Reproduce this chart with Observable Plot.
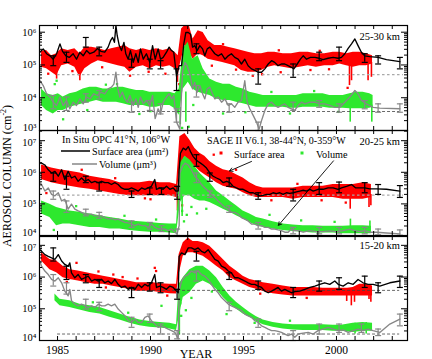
<!DOCTYPE html>
<html><head><meta charset="utf-8">
<script src="https://cdn.jsdelivr.net/npm/d3@7"></script>
<script src="https://cdn.jsdelivr.net/npm/@observablehq/plot@0.6"></script>
<style>
body{margin:0;background:#fff;}
#chart{position:relative;width:432px;height:359px;background:#fff;font-family:"Liberation Serif","Times New Roman",serif;}
#chart svg{position:absolute;left:0;top:0;}
</style></head><body><div id="chart"></div>
<script>
// ---------- shared ticks ----------
const yearTicks = [1985,1986,1987,1988,1989,1990,1991,1992,1993,1994,1995,1996,1997,1998,1999,2000,2001,2002,2003];
const yearLabels = [1985,1990,1995,2000];
const p1Majors = [1e3,1e4,1e5,1e6];
const p2Majors = [1e4,1e5,1e6,1e7];
const p3Majors = [1e4,1e5,1e6,1e7];
const p1Domain = [1e3,1.6e6];
const p2Domain = [1e4,2.1e7];
const p3Domain = [1e4,1.9e7];
const xDomain = [1984.03,2003.82];

// ---------- Panel 1 : 25-30 km ----------
const p1_opcSA = [[1984.05,2.45e5],[1984.23,3.1e5],[1984.41,2.2e5],[1984.59,1.9e5],[1984.77,1.5e5],[1984.95,2.2e5],[1985.13,4.4e5],[1985.27,2.6e5],[1985.45,1.9e5],[1985.63,1.7e5],[1985.84,2.2e5],[1986.02,1.5e5],[1986.20,2.45e5],[1986.38,1.9e5],[1986.56,2.75e5],[1986.74,2.2e5],[1986.95,2.45e5],[1987.15,3.2e5],[1987.33,2.6e5],[1987.54,2.45e5],[1987.72,3.5e5],[1987.85,5.5e5],[1987.96,6.9e5],[1988.06,4.9e5],[1988.14,1.6e6],[1988.21,7.8e5],[1988.32,3.9e5],[1988.44,2.75e5],[1988.57,4.9e5],[1988.67,2.2e5],[1988.80,1.5e5],[1988.92,2.75e5],[1989.07,1.2e5],[1989.21,2.2e5],[1989.34,1.2e5],[1989.46,3.1e5],[1989.61,1.5e5],[1989.78,2.2e5],[1989.96,1.2e5],[1990.11,3.9e5],[1990.25,1.5e5],[1990.41,3.1e5],[1990.54,1.5e5],[1990.68,1.7e5],[1990.86,2.45e5],[1991.00,3.5e5],[1991.13,2.75e5],[1991.25,2.45e5],[1991.40,4.5e4],[1991.54,9.5e4],[1991.67,9.5e4],[1991.79,4.4e5],[1991.90,9.8e5],[1992.03,9.8e5],[1992.15,8.7e5],[1992.26,3.5e5],[1992.38,3.9e5],[1992.51,2.75e5],[1992.65,3.9e5],[1992.80,3.1e5],[1992.92,1.9e5],[1993.05,3.1e5],[1993.19,3.5e5],[1993.33,2.75e5],[1993.46,2.2e5],[1993.64,1.9e5],[1993.82,2.2e5],[1994.00,1.5e5],[1994.18,1.9e5],[1994.35,2.2e5],[1994.53,1.7e5],[1994.71,1.5e5],[1994.89,1.07e5],[1995.07,1.5e5],[1995.25,9.5e4],[1995.43,7.6e4],[1995.61,6.8e4],[1995.79,6e4],[1995.97,6e4],[1996.15,7.6e4],[1996.33,1.07e5],[1996.51,1.35e5],[1996.68,1.2e5],[1996.86,9.5e4],[1997.04,1.07e5],[1997.22,1.07e5],[1997.40,9.5e4],[1997.58,8.5e4],[1997.71,7.6e4],[1997.89,1.07e5],[1998.06,1.5e5],[1998.21,1.9e5],[1998.39,1.5e5],[1998.60,1.7e5],[1998.84,1.7e5],[1999.07,1.6e5],[1999.28,1.45e5],[1999.55,1.6e5],[1999.82,1.7e5],[2000.09,1.6e5],[2000.27,1.7e5],[2000.45,2.2e5],[2000.63,3.2e5],[2000.81,4.4e5],[2000.99,6.2e5],[2001.16,3.9e5],[2001.34,2.45e5],[2001.52,1.9e5],[2001.79,1.8e5],[2002.24,1.7e5],[2002.69,1.45e5],[2003.41,1.26e5]];
const p1_opcSAerr = [[1984.77,9.5e4,1.9e5],[1985.48,1.2e5,2.45e5],[1986.52,3.5e5,6.9e5],[1987.24,1.9e5,3.5e5],[1988.98,8.5e4,1.5e5],[1989.96,7.6e4,1.5e5],[1990.54,7.6e4,1.35e5],[1991.40,1.66e4,7.6e4],[1992.47,2.2e5,4.4e5],[1995.79,2.6e4,7.6e4],[1997.67,4.2e4,1.07e5],[1999.07,1.35e5,2.45e5],[2000.14,1.35e5,3.5e5],[2001.52,1.2e5,2.2e5],[2002.24,1.07e5,1.9e5],[2003.41,7.6e4,1.7e5]];
const p1_opcV = [[1984.05,3.3e4],[1984.23,2.35e4],[1984.41,1.32e4],[1984.59,1.05e4],[1984.77,7.3e3],[1984.95,5.8e3],[1985.13,1.05e4],[1985.30,5.8e3],[1985.48,8.2e3],[1985.66,4.6e3],[1985.84,7.3e3],[1986.02,5.8e3],[1986.20,9.2e3],[1986.38,6.5e3],[1986.56,1.05e4],[1986.74,9.2e3],[1986.95,1.32e4],[1987.15,1.17e4],[1987.33,1.48e4],[1987.54,1.32e4],[1987.72,1.86e4],[1987.90,2.1e4],[1988.03,2.6e4],[1988.14,6e4],[1988.24,1.86e4],[1988.35,1.05e4],[1988.49,1.48e4],[1988.62,9.2e3],[1988.75,7.3e3],[1988.89,1.17e4],[1989.07,5.8e3],[1989.21,9.2e3],[1989.34,5.1e3],[1989.46,1.05e4],[1989.61,6.5e3],[1989.78,8.2e3],[1989.96,5.8e3],[1990.11,1.17e4],[1990.25,2.3e3],[1990.41,4.6e3],[1990.54,3.2e3],[1990.68,7.3e3],[1990.86,1.05e4],[1991.00,1.32e4],[1991.13,9.2e3],[1991.25,1.17e4],[1991.40,1.8e3],[1991.58,1.1e3],[1991.72,6e4],[1991.85,1.2e5],[1991.97,9.5e4],[1992.11,5.4e4],[1992.26,1.86e4],[1992.38,2.95e4],[1992.51,1.48e4],[1992.65,2.35e4],[1992.80,1.32e4],[1992.92,9.2e3],[1993.05,1.86e4],[1993.19,2.1e4],[1993.33,1.32e4],[1993.46,9.2e3],[1993.64,1.05e4],[1993.82,7.3e3],[1994.00,9.2e3],[1994.18,5.8e3],[1994.35,6.5e3],[1994.53,5.1e3],[1994.71,7.3e3],[1994.89,8.2e3],[1995.07,3.3e4],[1995.20,7.3e3],[1995.34,4.6e3],[1995.52,2.9e3],[1995.70,1.8e3],[1995.84,1.1e3],[1995.97,2.0e3],[1996.15,4.1e3],[1996.33,6.5e3],[1996.51,7.3e3],[1996.68,5.8e3],[1996.86,5.1e3],[1997.04,5.8e3],[1997.22,6.5e3],[1997.40,5.1e3],[1997.58,4.6e3],[1997.76,4.1e3],[1997.94,5.8e3],[1998.12,7.3e3],[1998.30,6.5e3],[1998.57,7.3e3],[1998.84,7.3e3],[1999.10,6.5e3],[1999.37,6.5e3],[1999.64,5.8e3],[1999.91,5.1e3],[2000.18,5.1e3],[2000.45,7.3e3],[2000.72,1.05e4],[2000.99,1.66e4],[2001.16,1.32e4],[2001.34,8.2e3],[2001.61,6.5e3],[2001.97,5.1e3],[2002.33,4.8e3],[2003.41,4.6e3]];
const p1_opcVerr = [[1984.77,4.6e3,1.17e4],[1985.48,4.1e3,1.05e4],[1986.52,7.3e3,1.32e4],[1987.24,9.2e3,1.66e4],[1988.98,3.6e3,7.3e3],[1989.96,4.1e3,8.2e3],[1990.54,3.2e3,6.5e3],[1991.40,1.8e3,4.6e3],[1992.47,1.05e4,2.35e4],[1994.23,3.6e3,6.5e3],[1995.79,1.0e3,1.8e3],[1997.67,4.1e3,7.3e3],[1999.07,5.1e3,8.2e3],[2000.14,3.6e3,6.5e3],[2001.52,4.6e3,8.2e3],[2002.24,3.6e3,6.5e3],[2003.41,3.6e3,6.5e3]];
const p1_sageSA = [[1984.14,8.5e4,2.6e5],[1984.41,7.6e4,2.75e5],[1984.68,6e4,1.9e5],[1984.95,4.7e4,2.2e5],[1985.22,9.5e4,3.1e5],[1985.57,1.07e5,2.75e5],[1985.93,8.5e4,3.1e5],[1986.20,4.2e4,2.2e5],[1986.47,7.6e4,3.5e5],[1986.83,1.07e5,3.5e5],[1987.19,1.35e5,3.2e5],[1987.54,1.2e5,2.75e5],[1987.90,1.07e5,3.1e5],[1988.26,9.5e4,3.5e5],[1988.62,8.5e4,3.9e5],[1988.89,6e4,3.1e5],[1989.25,8.5e4,2.75e5],[1989.61,9.5e4,3.1e5],[1989.96,7.6e4,2.75e5],[1990.32,9.5e4,3.1e5],[1990.68,8.5e4,2.75e5],[1991.04,9.5e4,3.1e5],[1991.31,7.6e4,2.45e5],[1991.49,6e4,1.9e5],[1991.67,1.5e5,1.25e6],[1991.85,3.9e5,1.6e6],[1992.08,2.45e5,1.6e6],[1992.29,1.5e5,6.2e5],[1992.56,2.2e5,1.1e6],[1992.83,1.9e5,9.8e5],[1993.10,1.5e5,5.5e5],[1993.46,1.35e5,3.9e5],[1993.82,1.2e5,3.9e5],[1994.18,1.07e5,3.5e5],[1994.53,9.5e4,3.1e5],[1994.89,6.8e4,2.75e5],[1995.25,6e4,2.45e5],[1995.61,6e4,2.2e5],[1995.97,6.8e4,2.2e5],[1996.33,8.5e4,2.45e5],[1996.68,9.5e4,2.45e5],[1997.13,8.5e4,2.2e5],[1997.58,7.6e4,2.2e5],[1998.03,8.5e4,2.45e5],[1998.48,9.5e4,2.45e5],[1998.92,8.5e4,2.2e5],[1999.37,9.5e4,2.2e5],[1999.82,9.5e4,2.45e5],[2000.18,1.07e5,2.45e5],[2000.54,9.5e4,2.2e5],[2000.90,8.5e4,2.45e5],[2001.25,9.5e4,2.45e5],[2001.61,9.5e4,2.2e5],[2001.94,1.07e5,1.9e5]];
const p1_sageSAspikes = [[2000.70,2.35e4,1.5e5],[2000.81,3.3e4,1.5e5],[2001.70,3.3e4,1.2e5],[2001.88,4.2e4,1.2e5],[1991.45,2.95e4,9.5e4],[1984.95,3.7e4,1e5],[1986.20,3.3e4,8e4]];
const p1_sageSAdots = [[1988.9,4.7e4],[1990.8,5.4e4],[1992.3,8.5e4],[1995.5,4.7e4],[1997.0,6e4],[1984.5,5.4e4],[1993.3,9.5e4],[2000.6,2e4],[1991.55,2.6e4],[1991.7,4.4e4],[1985.8,6.5e4],[1987.4,8.5e4],[1989.9,6.2e4],[1994.6,7.2e4],[1996.0,5.2e4],[1998.6,7.0e4],[1999.6,7.4e4],[1993.9,4.3e5],[1996.9,2.8e5],[1999.1,2.7e5]];
const p1_sageV = [[1984.14,5.8e3,1.86e4],[1984.41,4.1e3,1.32e4],[1984.77,3.2e3,1.17e4],[1985.04,4.1e3,1.32e4],[1985.30,4.1e3,1.05e4],[1985.66,5.1e3,1.32e4],[1986.02,5.8e3,1.48e4],[1986.38,6.5e3,1.86e4],[1986.74,7.3e3,2.1e4],[1987.10,8.2e3,2.1e4],[1987.46,7.3e3,1.86e4],[1987.81,7.3e3,1.86e4],[1988.17,7.3e3,2.1e4],[1988.53,6.5e3,2.1e4],[1988.89,5.8e3,1.86e4],[1989.25,5.8e3,1.66e4],[1989.61,5.8e3,1.66e4],[1989.96,5.1e3,1.48e4],[1990.32,5.1e3,1.48e4],[1990.68,5.8e3,1.48e4],[1991.04,5.8e3,1.48e4],[1991.31,4.6e3,1.32e4],[1991.54,2.9e3,1.86e4],[1991.76,1.86e4,3.1e5],[1992.03,2.95e4,4.9e5],[1992.26,1.86e4,1.5e5],[1992.56,1.48e4,1.9e5],[1992.83,1.32e4,7.6e4],[1993.19,1.17e4,3.7e4],[1993.55,9.2e3,2.95e4],[1993.91,8.2e3,2.6e4],[1994.27,8.2e3,2.6e4],[1994.62,7.3e3,2.1e4],[1994.98,6.5e3,1.86e4],[1995.34,5.8e3,1.48e4],[1995.70,5.1e3,1.32e4],[1996.06,5.1e3,1.17e4],[1996.42,5.1e3,1.17e4],[1996.77,5.1e3,1.17e4],[1997.13,5.1e3,1.17e4],[1997.49,4.8e3,1.17e4],[1997.85,4.8e3,1.17e4],[1998.21,5.1e3,1.32e4],[1998.57,5.1e3,1.32e4],[1998.92,5.1e3,1.32e4],[1999.28,5.1e3,1.32e4],[1999.64,4.8e3,1.17e4],[2000.00,4.8e3,1.17e4],[2000.36,4.8e3,1.17e4],[2000.72,4.6e3,1.32e4],[2001.08,4.6e3,1.48e4],[2001.43,4.6e3,1.48e4],[2001.79,4.8e3,1.32e4],[2001.97,5.1e3,1.17e4]];
const p1_sageVspikes = [[2000.74,1.8e3,6e3],[2001.90,1.8e3,6e3],[1991.60,1.5e3,5e3],[1991.90,1.8e3,1.5e4]];
const p1_sageVdots = [[1984.95,3.3e4],[1984.85,2.6e4],[1992.3,6e3],[1993.9,3.3e3],[1997.5,3.3e3],[1989.4,3.2e3],[1985.3,2.2e3],[1991.7,1.2e3],[1992.05,1.3e3],[1986.6,4.2e3],[1988.2,2.6e4],[1990.0,3.9e3],[1995.1,3.6e3],[1996.5,1.5e4],[1998.8,1.6e4],[2000.1,3.7e3],[1987.6,2.5e4]];
const p1_refsLight = [[1985,2003.6,5.1e4]];
const p1_refsDark = [[1985,2003.4,3.8e3]];

// ---------- Panel 2 : 20-25 km ----------
const p2_opcSA = [[1984.05,1.95e6],[1984.14,1.95e6],[1984.32,1.7e6],[1984.50,1.2e6],[1984.68,9.5e5],[1984.86,1.07e6],[1985.04,7.5e5],[1985.22,1.2e6],[1985.39,5.9e5],[1985.57,1.07e6],[1985.75,6.6e5],[1985.93,7.5e5],[1986.11,5.2e5],[1986.29,6.6e5],[1986.47,5.2e5],[1986.65,5.9e5],[1986.83,4.7e5],[1987.01,5.2e5],[1987.19,4.7e5],[1987.37,5.2e5],[1987.54,4.7e5],[1987.72,4.7e5],[1987.90,4.1e5],[1988.08,4.7e5],[1988.26,4.1e5],[1988.44,3.2e5],[1988.62,2.9e5],[1988.80,2.9e5],[1988.98,3.2e5],[1989.16,2.9e5],[1989.34,2.55e5],[1989.52,3.2e5],[1989.70,2.9e5],[1989.87,3.2e5],[1990.05,3.6e5],[1990.23,5.9e5],[1990.32,2.9e5],[1990.50,3.2e5],[1990.68,2.9e5],[1990.86,3.6e5],[1991.04,2.9e5],[1991.22,3.2e5],[1991.36,2.55e5],[1991.49,2.55e5],[1991.54,1.2e6],[1991.61,4.0e6],[1991.76,5.8e6],[1991.90,5.1e6],[1992.03,6.5e6],[1992.15,4.5e6],[1992.29,3.2e6],[1992.44,2.5e6],[1992.56,2.2e6],[1992.69,1.95e6],[1992.83,1.7e6],[1993.01,1.36e6],[1993.19,9.5e5],[1993.37,7.5e5],[1993.55,6.6e5],[1993.73,5.9e5],[1993.91,4.7e5],[1994.09,5.2e5],[1994.27,4.7e5],[1994.44,3.6e5],[1994.62,3.2e5],[1994.80,2.9e5],[1994.98,2.9e5],[1995.16,2.55e5],[1995.34,2.25e5],[1995.52,2.25e5],[1995.70,2.0e5],[1995.88,1.8e5],[1996.06,1.85e5],[1996.24,2.0e5],[1996.42,2.0e5],[1996.59,2.25e5],[1996.77,2.1e5],[1996.95,2.25e5],[1997.13,2.0e5],[1997.31,2.25e5],[1997.49,2.15e5],[1997.67,2.25e5],[1997.85,2.4e5],[1998.03,2.55e5],[1998.21,2.7e5],[1998.39,2.55e5],[1998.57,2.9e5],[1998.75,2.55e5],[1999.01,2.9e5],[1999.28,2.9e5],[1999.55,3.2e5],[1999.82,3.2e5],[2000.09,2.9e5],[2000.27,3.2e5],[2000.54,3.6e5],[2000.81,4.1e5],[2001.04,3.2e5],[2001.25,3.2e5],[2001.52,3.2e5],[2001.79,3.0e5],[2002.15,3.0e5],[2002.69,2.9e5],[2003.41,2.55e5]];
const p2_opcSAerr = [[1984.77,5.2e5,9.5e5],[1985.48,2.9e5,7.5e5],[1986.52,4.7e5,7.5e5],[1987.24,2.55e5,4.7e5],[1988.98,1.6e5,2.55e5],[1989.96,2.0e5,3.2e5],[1990.59,2.0e5,3.2e5],[1991.43,1.4e5,3.6e5],[1992.47,1.55e6,3.6e6],[1993.19,5.2e5,9.5e5],[1994.23,3.6e5,6.6e5],[1995.79,1.4e5,2.25e5],[1997.67,1.24e5,2.9e5],[1999.07,2.0e5,4.7e5],[2000.14,2.25e5,4.9e5],[2001.52,2.25e5,4.7e5],[2002.24,2.0e5,4.1e5],[2003.41,1.6e5,3.8e5]];
const p2_opcV = [[1984.05,4.7e5],[1984.14,4.1e5],[1984.32,2.55e5],[1984.50,3.2e5],[1984.68,2.0e5],[1984.86,1.8e5],[1985.04,2.25e5],[1985.22,1.24e5],[1985.39,1.4e5],[1985.57,6.8e4],[1985.75,9.8e4],[1985.93,6.8e4],[1986.11,6.0e4],[1986.29,5.4e4],[1986.47,4.75e4],[1986.65,4.75e4],[1986.83,4.75e4],[1987.01,4.2e4],[1987.19,4.2e4],[1987.37,4.2e4],[1987.54,3.7e4],[1987.72,3.3e4],[1987.90,3.5e4],[1988.08,3.15e4],[1988.26,3.3e4],[1988.44,2.9e4],[1988.62,2.6e4],[1988.80,2.5e4],[1988.98,2.3e4],[1989.16,2.05e4],[1989.34,2.3e4],[1989.52,2.05e4],[1989.70,2.05e4],[1989.87,1.8e4],[1990.05,2.3e4],[1990.23,1.8e4],[1990.41,1.6e4],[1990.59,1.6e4],[1990.77,1.6e4],[1990.95,1.43e4],[1991.13,1.6e4],[1991.31,1.27e4],[1991.43,1.13e4],[1991.54,2.05e4],[1991.58,9.5e5],[1991.72,1.55e6],[1991.86,1.95e6],[1992.03,1.7e6],[1992.20,1.2e6],[1992.38,7.5e5],[1992.56,5.9e5],[1992.74,4.1e5],[1992.92,3.2e5],[1993.10,2.55e5],[1993.28,2.0e5],[1993.46,1.6e5],[1993.64,1.24e5],[1993.82,9.8e4],[1994.00,7.7e4],[1994.18,6.8e4],[1994.35,5.4e4],[1994.53,5.4e4],[1994.71,4.75e4],[1994.89,3.7e4],[1995.07,3.3e4],[1995.25,2.9e4],[1995.43,2.3e4],[1995.61,2.3e4],[1995.79,2.05e4],[1995.97,2.05e4],[1996.15,1.8e4],[1996.33,1.8e4],[1996.51,1.6e4],[1996.68,1.6e4],[1996.86,1.5e4],[1997.04,1.43e4],[1997.22,1.27e4],[1997.40,1.27e4],[1997.58,1.6e4],[1997.76,1.43e4],[1997.94,1.43e4],[1998.21,1.27e4],[1998.57,1.43e4],[1998.92,1.33e4],[1999.28,1.33e4],[1999.64,1.4e4],[2000.00,1.33e4],[2000.36,1.43e4],[2000.72,1.6e4],[2000.99,1.43e4],[2001.25,1.33e4],[2001.52,1.43e4],[2001.79,1.27e4],[2002.15,1.27e4],[2002.69,1.2e4],[2003.41,1.13e4]];
const p2_opcVerr = [[1984.77,1.4e5,2.55e5],[1985.48,5.4e4,1.24e5],[1986.52,4.2e4,6.8e4],[1987.24,3.5e4,5.4e4],[1988.98,1.8e4,2.9e4],[1989.96,1.6e4,2.6e4],[1990.59,1.33e4,2.05e4],[1991.43,1.0e4,1.6e4],[1992.47,4.7e5,9.5e5],[1993.19,1.6e5,2.55e5],[1994.23,5.4e4,8.7e4],[1995.79,1.6e4,2.6e4],[1997.67,1.13e4,1.8e4],[1999.07,1.13e4,1.8e4],[2000.14,1.13e4,1.8e4],[2001.52,1.13e4,1.8e4],[2002.24,1.05e4,1.6e4],[2003.41,1.02e4,1.5e4]];
const p2_sageSA = [[1984.14,5.9e5,1.7e6],[1984.68,4.7e5,1.36e6],[1985.13,4.1e5,1.2e6],[1985.66,3.6e5,1.07e6],[1986.20,3.2e5,9.5e5],[1986.74,2.9e5,7.5e5],[1987.28,2.55e5,6.6e5],[1987.81,2.25e5,5.9e5],[1988.35,2.0e5,4.7e5],[1988.89,1.8e5,4.7e5],[1989.43,1.8e5,4.7e5],[1989.96,1.8e5,5.2e5],[1990.50,1.8e5,4.7e5],[1991.04,1.8e5,4.7e5],[1991.40,1.6e5,4.1e5],[1991.58,1.2e6,1.33e7],[1991.85,3.2e6,1.7e7],[1992.11,2.2e6,1.05e7],[1992.38,1.55e6,5.8e6],[1992.65,1.07e6,4.0e6],[1992.92,8.4e5,3.2e6],[1993.19,6.6e5,2.2e6],[1993.55,4.7e5,1.55e6],[1993.91,3.6e5,1.2e6],[1994.27,3.2e5,1.07e6],[1994.62,2.9e5,8.4e5],[1994.98,2.25e5,6.6e5],[1995.34,1.8e5,4.7e5],[1995.70,1.6e5,3.6e5],[1996.06,1.6e5,3.2e5],[1996.59,1.6e5,3.2e5],[1997.13,1.6e5,3.2e5],[1997.67,1.4e5,3.2e5],[1998.21,1.6e5,3.6e5],[1998.75,1.6e5,3.6e5],[1999.28,1.6e5,3.6e5],[1999.82,1.6e5,4.1e5],[2000.36,1.4e5,4.1e5],[2000.90,1.4e5,4.1e5],[2001.43,1.4e5,4.7e5],[2001.88,1.6e5,4.1e5]];
const p2_sageSAspikes = [[2000.74,6.8e4,2.0e5],[2001.75,7.7e4,2.0e5],[2001.85,8.7e4,2.0e5],[1991.45,6e4,2e5]];
const p2_sageSAdots = [[1984.4,2.2e5],[1991.7,9e4],[1992.0,6e5],[1991.6,3e5],[1993.4,3.6e6],[1990.0,1.4e5],[1996.5,1.3e5],[2000.5,1.1e5],[1986.3,1.2e6],[1988.1,6.5e5],[1989.7,1.5e5],[1994.6,1.2e6],[1997.9,4.3e5],[1999.2,1.3e5]];
const p2_sageV = [[1984.14,4.75e4,1.24e5],[1984.59,3.7e4,9.8e4],[1984.95,2.05e4,7.7e4],[1985.30,2.3e4,6.8e4],[1985.66,2.3e4,6.0e4],[1986.20,2.05e4,5.4e4],[1986.74,1.8e4,4.75e4],[1987.28,1.8e4,4.2e4],[1987.81,1.6e4,3.7e4],[1988.35,1.6e4,3.3e4],[1988.89,1.43e4,2.9e4],[1989.43,1.33e4,2.7e4],[1989.96,1.27e4,2.6e4],[1990.50,1.27e4,2.4e4],[1991.04,1.2e4,2.3e4],[1991.40,1.13e4,2.3e4],[1991.61,1.1e5,1.95e6],[1991.85,1.8e5,3.2e6],[1992.11,1.8e5,2.5e6],[1992.38,1.4e5,1.55e6],[1992.65,1.24e5,9.5e5],[1992.92,1.24e5,6.6e5],[1993.19,1.1e5,4.7e5],[1993.55,8.7e4,2.55e5],[1993.91,6.8e4,1.8e5],[1994.27,5.4e4,1.24e5],[1994.62,4.2e4,8.7e4],[1994.98,3.3e4,6.0e4],[1995.34,2.6e4,4.75e4],[1995.70,2.05e4,3.7e4],[1996.06,1.8e4,3.3e4],[1996.59,1.6e4,2.7e4],[1997.13,1.43e4,2.3e4],[1997.67,1.33e4,2.15e4],[1998.21,1.27e4,2.05e4],[1998.75,1.2e4,2.05e4],[1999.28,1.2e4,1.95e4],[1999.82,1.2e4,1.95e4],[2000.36,1.13e4,1.95e4],[2000.90,1.13e4,2.05e4],[2001.43,1.13e4,2.05e4],[2001.88,1.13e4,1.95e4]];
const p2_sageVspikes = [[2000.75,1.2e4,3.3e4],[2001.80,1.2e4,2.9e4],[1991.70,4e4,2e5]];
const p2_sageVdots = [[1991.7,6e4],[1991.95,4.5e4],[1992.2,8e4],[1992.5,5e4],[1993.0,7e4],[1984.8,1.5e4],[1991.8,2.8e4],[1986.0,8.5e4],[1988.6,4.2e4],[1990.3,3.2e4],[1996.4,4.5e4],[1998.1,3.0e4],[1999.9,2.7e4]];
const p2_refsLight = [[1985,2003.6,1.9e5]];
const p2_refsDark = [];
const p2_arrows = [[1995.43,2.2e6,1994.25,1.1e6],[1999.84,2.3e6,1996.88,2.1e4]];

// ---------- Panel 3 : 15-20 km ----------
const p3_opcSA = [[1984.05,7.3e6],[1984.14,6.5e6],[1984.32,5.1e6],[1984.50,4.5e6],[1984.68,4.0e6],[1984.86,3.6e6],[1985.04,5.1e6],[1985.22,3.2e6],[1985.39,2.5e6],[1985.57,2.2e6],[1985.66,2.8e6],[1985.75,1.36e6],[1985.93,9.5e5],[1986.11,1.2e6],[1986.29,8.4e5],[1986.47,9.5e5],[1986.65,1.07e6],[1986.83,7.5e5],[1987.01,8.4e5],[1987.19,7.5e5],[1987.37,8.4e5],[1987.54,6.6e5],[1987.72,7.5e5],[1987.90,6.2e5],[1988.08,8.4e5],[1988.26,5.9e5],[1988.44,4.7e5],[1988.62,5.2e5],[1988.80,4.1e5],[1988.98,4.7e5],[1989.16,4.1e5],[1989.34,5.9e5],[1989.52,4.7e5],[1989.70,5.9e5],[1989.87,5.2e5],[1990.05,6.6e5],[1990.23,1.2e6],[1990.32,4.7e5],[1990.50,5.2e5],[1990.68,4.7e5],[1990.86,4.1e5],[1991.04,5.2e5],[1991.22,4.7e5],[1991.40,3.6e5],[1991.49,3.2e5],[1991.54,4.5e6],[1991.67,5.8e6],[1991.85,5.1e6],[1992.03,8.3e6],[1992.20,8.3e6],[1992.38,7.3e6],[1992.56,8.3e6],[1992.74,6.5e6],[1992.92,5.8e6],[1993.10,7.3e6],[1993.28,5.1e6],[1993.46,3.6e6],[1993.64,3.2e6],[1993.82,2.2e6],[1994.00,1.95e6],[1994.18,1.55e6],[1994.35,1.36e6],[1994.53,9.5e5],[1994.71,9.5e5],[1994.89,8.4e5],[1995.07,7.5e5],[1995.25,6.6e5],[1995.43,5.9e5],[1995.61,5.9e5],[1995.79,5.2e5],[1995.97,4.7e5],[1996.15,3.6e5],[1996.33,3.2e5],[1996.51,3.6e5],[1996.68,4.1e5],[1996.86,4.7e5],[1997.04,3.6e5],[1997.22,4.1e5],[1997.40,3.6e5],[1997.58,3.2e5],[1997.76,3.5e5],[1998.03,3.6e5],[1998.30,4.1e5],[1998.57,4.7e5],[1998.84,5.2e5],[1999.10,5.9e5],[1999.37,6.6e5],[1999.64,5.9e5],[1999.91,7.5e5],[2000.09,5.9e5],[2000.36,5.2e5],[2000.63,6.6e5],[2000.90,5.9e5],[2001.16,8.4e5],[2001.43,6.6e5],[2001.70,5.9e5],[2001.97,5.9e5],[2002.33,5.2e5],[2002.87,6.6e5],[2003.41,7.5e5]];
const p3_opcSAerr = [[1984.77,3.2e6,8.3e6],[1985.48,8.4e5,2.2e6],[1986.52,6.6e5,1.2e6],[1987.24,4.7e5,8.4e5],[1988.98,2.25e5,4.7e5],[1989.96,3.6e5,6.6e5],[1990.54,3.2e5,6.6e5],[1991.43,2.0e5,4.1e5],[1992.47,3.2e6,6.5e6],[1994.23,8.4e5,1.36e6],[1995.79,4.1e5,7.5e5],[1997.67,2.25e5,4.7e5],[1999.07,3.6e5,7.5e5],[2000.14,4.1e5,9.5e5],[2001.52,4.7e5,1.07e6],[2002.24,3.2e5,6.6e5],[2003.41,4.7e5,1.07e6]];
const p3_opcV = [[1984.05,3.2e6],[1984.14,2.2e6],[1984.32,1.55e6],[1984.50,1.2e6],[1984.68,8.4e5],[1984.86,7.5e5],[1985.04,9.5e5],[1985.22,6.6e5],[1985.39,3.6e5],[1985.57,2.55e5],[1985.66,4.1e5],[1985.75,1.8e5],[1985.93,1.4e5],[1986.11,1.24e5],[1986.29,1.4e5],[1986.47,1.24e5],[1986.65,1.1e5],[1986.83,1.24e5],[1987.01,1.1e5],[1987.19,1.4e5],[1987.37,1.24e5],[1987.54,1.24e5],[1987.72,1.4e5],[1987.90,1.24e5],[1988.08,1.4e5],[1988.26,9.8e4],[1988.44,7.7e4],[1988.62,6.0e4],[1988.80,4.2e4],[1988.98,3.7e4],[1989.16,4.75e4],[1989.34,3.7e4],[1989.52,3.7e4],[1989.70,5.4e4],[1989.87,6.0e4],[1990.05,4.2e4],[1990.23,3.3e4],[1990.41,2.6e4],[1990.59,2.9e4],[1990.77,2.6e4],[1990.95,2.3e4],[1991.13,2.05e4],[1991.31,1.8e4],[1991.40,1.43e4],[1991.49,1.13e4],[1991.54,3.6e5],[1991.67,7.5e5],[1991.85,1.07e6],[1992.03,1.2e6],[1992.20,1.55e6],[1992.38,1.36e6],[1992.56,1.55e6],[1992.74,1.2e6],[1992.92,1.07e6],[1993.10,8.4e5],[1993.28,5.9e5],[1993.46,4.1e5],[1993.64,3.2e5],[1993.82,2.25e5],[1994.00,1.8e5],[1994.18,1.4e5],[1994.35,1.24e5],[1994.53,1.1e5],[1994.71,9.8e4],[1994.89,8.7e4],[1995.07,6.8e4],[1995.25,6.0e4],[1995.43,5.4e4],[1995.61,4.2e4],[1995.79,3.7e4],[1995.97,2.9e4],[1996.15,2.6e4],[1996.33,2.3e4],[1996.51,2.05e4],[1996.68,2.05e4],[1996.86,1.95e4],[1997.04,1.8e4],[1997.22,1.6e4],[1997.40,1.43e4],[1997.58,1.6e4],[1997.76,1.27e4],[1997.94,1.6e4],[1998.21,1.7e4],[1998.48,1.8e4],[1998.75,1.6e4],[1999.01,2.05e4],[1999.28,2.3e4],[1999.55,2.6e4],[1999.82,2.3e4],[2000.09,2.05e4],[2000.36,2.15e4],[2000.63,1.8e4],[2000.90,2.05e4],[2001.16,2.3e4],[2001.43,2.05e4],[2001.70,2.3e4],[2001.97,2.05e4],[2002.33,1.8e4],[2002.87,3.3e4],[2003.41,4.75e4]];
const p3_opcVerr = [[1984.77,5.2e5,1.2e6],[1985.48,2.9e5,6.6e5],[1986.52,9.8e4,2.0e5],[1987.24,8.7e4,1.6e5],[1988.98,2.6e4,5.4e4],[1989.96,3.7e4,6.8e4],[1990.54,1.6e4,3.3e4],[1991.43,1.13e4,2.05e4],[1992.47,7.5e5,1.55e6],[1994.23,8.7e4,1.6e5],[1995.79,2.6e4,4.75e4],[1997.67,1.0e4,2.05e4],[1999.07,1.6e4,3.3e4],[2000.14,1.8e4,3.3e4],[2001.34,1.8e4,3.3e4],[2002.24,1.43e4,2.3e4],[2003.41,2.9e4,6.8e4]];
const p3_sageSA = [[1984.14,3.2e6,5.8e6],[1984.59,1.7e6,3.6e6],[1984.95,1.36e6,3.2e6],[1985.30,9.5e5,2.2e6],[1985.66,8.4e5,1.7e6],[1986.11,7.5e5,1.55e6],[1986.56,6.6e5,1.36e6],[1987.01,5.9e5,1.2e6],[1987.46,5.9e5,1.07e6],[1987.90,5.2e5,9.5e5],[1988.35,4.7e5,8.4e5],[1988.80,4.1e5,7.5e5],[1989.25,3.6e5,6.6e5],[1989.70,3.6e5,6.6e5],[1990.14,3.5e5,6.6e5],[1990.59,3.2e5,6.2e5],[1991.04,3.0e5,5.9e5],[1991.40,2.9e5,5.9e5],[1991.54,1.2e6,5.1e6],[1991.76,4.5e6,1.2e7],[1992.03,5.8e6,1.7e7],[1992.29,5.8e6,1.33e7],[1992.56,5.1e6,1.33e7],[1992.83,4.5e6,1.2e7],[1993.19,3.2e6,9.3e6],[1993.55,2.2e6,5.8e6],[1993.91,1.55e6,3.6e6],[1994.27,9.5e5,2.2e6],[1994.62,7.5e5,1.55e6],[1994.98,5.9e5,1.07e6],[1995.34,4.7e5,8.4e5],[1995.70,4.1e5,7.5e5],[1996.06,3.5e5,6.6e5],[1996.59,3.0e5,5.9e5],[1997.13,2.7e5,5.2e5],[1997.67,2.55e5,4.7e5],[1998.21,2.55e5,4.7e5],[1998.75,2.55e5,4.7e5],[1999.28,2.55e5,4.4e5],[1999.82,2.55e5,4.4e5],[2000.27,2.55e5,4.4e5],[2000.60,2.55e5,4.4e5],[2000.90,2.55e5,4.7e5],[2001.25,2.55e5,5.9e5],[2001.61,2.55e5,5.9e5],[2001.94,2.55e5,5.2e5]];
const p3_sageSAspikes = [[2000.80,1.24e5,4e5],[2000.97,1.6e5,4e5],[2001.85,1.6e5,4e5],[2001.75,1.95e5,4e5],[2000.55,1.7e5,3.5e5]];
const p3_sageSAdots = [[1986.02,2.8e6],[1988.0,1.2e6],[1990.23,1.95e6],[1990.3,1.55e6],[1988.5,1.0e6],[1987.2,1.5e6],[1989.3,9e5],[1985.5,7.0e5],[1987.6,4.7e5],[1990.9,2.6e5],[1995.9,3.0e5],[1998.4,2.2e5]];
const p3_sageV = [[1984.86,1.8e5,2.9e5],[1985.13,1.24e5,2.0e5],[1985.66,1.1e5,1.8e5],[1986.20,9.1e4,1.4e5],[1986.74,7.7e4,1.24e5],[1987.28,6.8e4,1.1e5],[1987.81,5.4e4,8.7e4],[1988.35,4.4e4,6.8e4],[1988.89,3.5e4,5.4e4],[1989.43,2.9e4,4.4e4],[1989.96,2.6e4,4.0e4],[1990.50,2.5e4,3.7e4],[1991.04,2.3e4,3.5e4],[1991.40,2.05e4,3.15e4],[1991.54,5.4e4,5.9e5],[1991.76,2.25e5,9.5e5],[1992.11,3.2e5,1.7e6],[1992.47,5.9e5,2.2e6],[1992.83,7.5e5,2.2e6],[1993.19,5.9e5,1.55e6],[1993.55,4.1e5,9.5e5],[1993.91,2.25e5,4.7e5],[1994.27,1.4e5,2.55e5],[1994.62,9.8e4,1.6e5],[1994.98,6.8e4,1.1e5],[1995.34,5.4e4,7.7e4],[1995.70,4.0e4,5.6e4],[1996.06,3.15e4,4.4e4],[1996.59,2.6e4,3.7e4],[1997.13,2.3e4,3.3e4],[1997.67,2.15e4,3.15e4],[1998.21,2.05e4,3.15e4],[1998.75,2.05e4,3.15e4],[1999.28,2.05e4,3.15e4],[1999.82,1.95e4,3.0e4],[2000.27,1.95e4,3.0e4],[2000.90,1.8e4,3.5e4],[2001.43,1.95e4,3.7e4],[2001.94,1.95e4,3.5e4]];
const p3_sageVspikes = [[2001.00,1.6e4,3.5e4],[2001.60,1.6e4,3.7e4],[1991.55,1.5e4,1e5]];
const p3_sageVdots = [[1990.59,1.24e5],[1991.6,1.5e5],[1991.65,6e4],[1991.7,3e5],[1994.09,6.8e4],[1991.9,9e4],[1992.2,2.2e5],[1986.9,1.6e5],[1988.8,7.5e4],[1993.3,3.5e5],[1995.6,3.6e4],[1997.5,4.2e4]];
const p3_refsLight = [];
const p3_refsDark = [[1985,2003.4,3.8e5],[1985,2003.4,1.6e4]];

// ---------- text ----------
const panelNames = ["25-30 km","20-25 km","15-20 km"];
const opcTitle = "In Situ OPC 41°N, 106°W";
const opcSALabel = "Surface area (μm²)";
const opcVLabel = "Volume (μm³)";
const sageTitle = "SAGE II V6.1, 38-44°N, 0-359°W";
const sageSALabel = "Surface area";
const sageVLabel = "Volume";
const yTitle = "AEROSOL COLUMN (cm";
const xTitle = "YEAR";

// ---------- drawing ----------
const W = 432, H = 359, ML = 39, MR = 25;
const RED = "#ff0000", GREEN = "#2ee82e", GRAY = "#878787", BLACK = "#000000";
const FONT = "'Liberation Serif', 'Times New Roman', serif";
const capSym = {draw(ctx, size){ const r = Math.sqrt(size/Math.PI); ctx.moveTo(-r,0); ctx.lineTo(r,0); }};
const capsOf = err => err.flatMap(d => [[d[0], d[1]], [d[0], d[2]]]);
const SUP = {"0":"⁰","1":"¹","2":"²","3":"³","4":"⁴","5":"⁵","6":"⁶","7":"⁷","8":"⁸","9":"⁹"};
const pow10 = v => "10" + String(Math.round(Math.log10(v))).split("").map(c => SUP[c]).join("");

function minorTicks(domain){
  const out = [];
  for (let e = Math.floor(Math.log10(domain[0])); e <= Math.ceil(Math.log10(domain[1])); e++)
    for (let m = 2; m <= 9; m++) { const v = m * Math.pow(10, e); if (v > domain[0] && v < domain[1]) out.push(v); }
  return out;
}

function makePanel(p){
  const ph = H - p.mt - p.mb, pw = W - ML - MR;
  const minors = minorTicks(p.domain);
  const X = d => d[0];
  const mid = p.majors.slice(1, -1);
  const marks = [
    Plot.areaY(p.sageSA, {x: X, y1: d => d[1], y2: d => d[2], fill: RED, clip: true}),
    Plot.ruleX(p.sageSAspikes, {x: X, y1: d => d[1], y2: d => d[2], stroke: RED, strokeWidth: 1.6, clip: true}),
    Plot.dot(p.sageSAdots, {x: X, y: d => d[1], r: 1.3, symbol: "square", fill: RED, clip: true}),
    Plot.areaY(p.sageV, {x: X, y1: d => d[1], y2: d => d[2], fill: GREEN, clip: true}),
    Plot.ruleX(p.sageVspikes, {x: X, y1: d => d[1], y2: d => d[2], stroke: GREEN, strokeWidth: 1.6, clip: true}),
    Plot.dot(p.sageVdots, {x: X, y: d => d[1], r: 1.3, symbol: "square", fill: GREEN, clip: true}),
    Plot.ruleY(p.refsLight, {x1: d => d[0], x2: d => d[1], y: d => d[2], stroke: "#a8a8a8", strokeWidth: 1.2, strokeDasharray: "2.5,2.5"}),
    Plot.ruleY(p.refsDark, {x1: d => d[0], x2: d => d[1], y: d => d[2], stroke: "#444", strokeWidth: 0.8, strokeDasharray: "3,2"}),
    Plot.line(p.opcV, {x: X, y: d => d[1], stroke: GRAY, strokeWidth: 1.35, clip: true}),
    Plot.ruleX(p.opcVerr, {x: X, y1: d => d[1], y2: d => d[2], stroke: GRAY, strokeWidth: 1.2}),
    Plot.dot(capsOf(p.opcVerr), {x: X, y: d => d[1], symbol: capSym, r: 3, stroke: GRAY, strokeWidth: 1.2, fill: "none"}),
    Plot.line(p.opcSA, {x: X, y: d => d[1], stroke: BLACK, strokeWidth: 1.35, clip: true}),
    Plot.ruleX(p.opcSAerr, {x: X, y1: d => d[1], y2: d => d[2], stroke: BLACK, strokeWidth: 1.2}),
    Plot.dot(capsOf(p.opcSAerr), {x: X, y: d => d[1], symbol: capSym, r: 3, stroke: BLACK, strokeWidth: 1.2, fill: "none"}),
    Plot.tickX(yearTicks, {x: d => d, insetTop: ph - 4, stroke: BLACK}),
    Plot.tickX(yearTicks, {x: d => d, insetBottom: ph - 4, stroke: BLACK}),
    Plot.tickY(p.majors, {y: d => d, insetRight: pw - 6, stroke: BLACK}),
    Plot.tickY(minors, {y: d => d, insetRight: pw - 3, stroke: BLACK}),
    Plot.tickY(p.majors, {y: d => d, insetLeft: pw - 6, stroke: BLACK}),
    Plot.tickY(minors, {y: d => d, insetLeft: pw - 3, stroke: BLACK}),
    Plot.frame({stroke: BLACK, strokeWidth: 1.2}),
    Plot.axisY(mid, {tickSize: 0, tickPadding: 3, tickFormat: pow10, fontSize: 10.5, label: null}),
    Plot.axisY([p.majors[0]], {tickSize: 0, tickPadding: 3, tickFormat: pow10, fontSize: 10.5, label: null, dy: -2.5}),
    Plot.axisY([p.majors[p.majors.length - 1]], {tickSize: 0, tickPadding: 3, tickFormat: pow10, fontSize: 10.5, label: null, dy: p.topDy || 0})
  ];
  if (p.arrows) marks.push(Plot.arrow(p.arrows, {x1: d => d[0], y1: d => d[1], x2: d => d[2], y2: d => d[3], stroke: BLACK, strokeWidth: 0.9, headLength: 6}));
  if (p.showX) marks.push(Plot.axisX(yearLabels, {tickSize: 0, tickPadding: 5, tickFormat: d => String(d), fontSize: 11.5, label: null}));
  return Plot.plot({
    width: W, height: H, marginTop: p.mt, marginBottom: p.mb, marginLeft: ML, marginRight: MR,
    x: {domain: xDomain, axis: p.showX ? undefined : null},
    y: {type: "log", domain: p.domain},
    style: {fontFamily: FONT, fontSize: "11px", background: "transparent", overflow: "visible", color: "black"},
    marks
  });
}

const chart = document.getElementById("chart");
const panels = [
  {mt: 25, mb: 229, domain: p1Domain, majors: p1Majors, opcSA: p1_opcSA, opcSAerr: p1_opcSAerr, opcV: p1_opcV, opcVerr: p1_opcVerr, sageSA: p1_sageSA, sageSAspikes: p1_sageSAspikes, sageSAdots: p1_sageSAdots, sageV: p1_sageV, sageVspikes: p1_sageVspikes, sageVdots: p1_sageVdots, refsLight: p1_refsLight, refsDark: p1_refsDark},
  {mt: 130, mb: 124, domain: p2Domain, majors: p2Majors, topDy: 2, opcSA: p2_opcSA, opcSAerr: p2_opcSAerr, opcV: p2_opcV, opcVerr: p2_opcVerr, sageSA: p2_sageSA, sageSAspikes: p2_sageSAspikes, sageSAdots: p2_sageSAdots, sageV: p2_sageV, sageVspikes: p2_sageVspikes, sageVdots: p2_sageVdots, refsLight: p2_refsLight, refsDark: p2_refsDark, arrows: p2_arrows},
  {mt: 236, mb: 19, domain: p3Domain, majors: p3Majors, topDy: 2, opcSA: p3_opcSA, opcSAerr: p3_opcSAerr, opcV: p3_opcV, opcVerr: p3_opcVerr, sageSA: p3_sageSA, sageSAspikes: p3_sageSAspikes, sageSAdots: p3_sageSAdots, sageV: p3_sageV, sageVspikes: p3_sageVspikes, sageVdots: p3_sageVdots, refsLight: p3_refsLight, refsDark: p3_refsDark, showX: true}
];
panels.forEach(p => chart.appendChild(makePanel(p)));

// ---------- annotation overlay (legend, titles) ----------
const ov = d3.select(chart).append("svg").attr("width", W).attr("height", H)
  .style("font-family", FONT).style("pointer-events", "none");
const txt = (s, x, y, size, anchor) => ov.append("text").attr("x", x).attr("y", y).attr("font-size", size).attr("text-anchor", anchor || "start").attr("fill", "black").style("font-family", FONT).text(s);
txt(panelNames[0], 400, 39.5, 10.5, "end");
txt(panelNames[1], 400, 144.5, 10.5, "end");
txt(panelNames[2], 400, 248.5, 10.5, "end");
txt(opcTitle, 62, 143, 10.2);
ov.append("line").attr("x1", 61).attr("x2", 90).attr("y1", 151).attr("y2", 151).attr("stroke", BLACK).attr("stroke-width", 1.5);
txt(opcSALabel, 92, 154.5, 10.2);
ov.append("line").attr("x1", 72).attr("x2", 97).attr("y1", 164).attr("y2", 164).attr("stroke", GRAY).attr("stroke-width", 1.5);
txt(opcVLabel, 99, 168, 10.2);
txt(sageTitle, 207, 143.5, 10);
ov.append("rect").attr("x", 219.5).attr("y", 151.5).attr("width", 3).attr("height", 3).attr("fill", RED);
txt(sageSALabel, 234, 158, 10.2);
ov.append("rect").attr("x", 300.5).attr("y", 151.5).attr("width", 3).attr("height", 3).attr("fill", GREEN);
txt(sageVLabel, 316, 158, 10.2);
const yt = ov.append("text").attr("transform", "translate(10.5,176) rotate(-90)").attr("text-anchor", "middle").attr("font-size", 12).attr("fill", "black").style("font-family", FONT);
yt.append("tspan").text(yTitle);
yt.append("tspan").attr("font-size", 8).attr("dy", -5).text("-2");
yt.append("tspan").attr("dy", 5).text(")");
txt(xTitle, 196, 357.5, 12, "middle");
</script></body></html>
